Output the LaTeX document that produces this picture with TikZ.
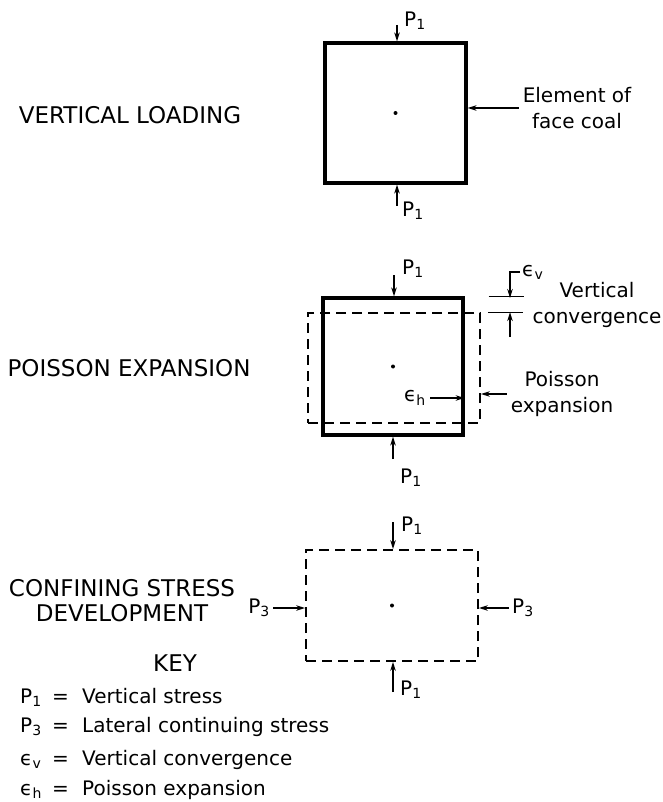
\documentclass[tikz,border=0pt]{standalone}
\usepackage{fontspec}
\setmainfont{DejaVu Sans}
\usetikzlibrary{arrows.meta}

\begin{document}
\begin{tikzpicture}[x=1pt,y=-1pt,
  >={Stealth[length=9pt,width=5.5pt]},
  every node/.style={inner sep=0pt},
  solidbox/.style={draw, line width=3.2pt},
  dashbox/.style={draw, line width=1.8pt, dash pattern=on 10pt off 6pt},
  force/.style={->, line width=1.3pt},
  title/.style={font=\fontsize{23}{25}\selectfont, align=center},
  lbl/.style={font=\fontsize{20}{26}\selectfont, align=center},
  keyline/.style={font=\fontsize{20}{20}\selectfont, anchor=base west}]

\useasboundingbox (0,0) rectangle (662,802);

% vertical loading
\node[title] (tvert) at (130,115) {VERTICAL LOADING};
\node[solidbox, minimum width=141pt, minimum height=140pt] (vbox) at (395.5,113) {};
\fill (vbox.center) circle (2pt);
\coordinate (vtop) at (397,25);
\draw[force] (vtop) -- (vtop |- vbox.north);
\node[lbl, anchor=west] (vp1a) at (404,21) {P\textsubscript{1}};
\coordinate (vbot) at (397,206);
\draw[force] (vbot) -- (vbot |- vbox.south);
\node[lbl, anchor=west] (vp1b) at (402,211) {P\textsubscript{1}};
\node[lbl] (elem) at (577,108) {Element of\\face coal};
\draw[force] ([xshift=-4pt]elem.west) -- (elem.west -| vbox.east);

% poisson expansion
\node[title] (tpois) at (129,368) {POISSON EXPANSION};
\node[dashbox, minimum width=172pt, minimum height=110pt] (pdash) at (394,368) {};
\node[solidbox, minimum width=140pt, minimum height=137pt] (pbox) at (393,366.5) {};
\fill (pbox.center) circle (2pt);
\coordinate (ptop) at (394,275);
\draw[force] (ptop) -- (ptop |- pbox.north);
\node[lbl, anchor=west] (pp1a) at (402,269) {P\textsubscript{1}};
\coordinate (pbot) at (393,459);
\draw[force] (pbot) -- (pbot |- pbox.south);
\node[lbl, anchor=west] (pp1b) at (400,478) {P\textsubscript{1}};

% vertical convergence
\draw[line width=1pt] ([xshift=24pt]pbox.north east) -- ++(35,0);
\draw[line width=1pt] ([xshift=7pt]pdash.north east) -- ++(35,0);
\coordinate (evtop) at (510,298);
\coordinate (evbot) at (510,337);
\node[lbl, anchor=west] (evlab) at (522,272) {ϵ\textsubscript{v}};
\draw[force] ([xshift=-2pt]evlab.west) -| (evtop);
\draw[force] (evbot) -- (evbot |- pdash.north);
\node[lbl] (vconv) at (597,305) {Vertical\\convergence};

% poisson labels
\node[lbl] (ehlab) at (415,398) {ϵ\textsubscript{h}};
\draw[force] ([xshift=4pt]ehlab.east) -- (ehlab.east -| pbox.east);
\node[lbl] (pexp) at (562,394) {Poisson\\expansion};
\draw[force] ([xshift=-4pt]pexp.west) -- (pexp.west -| pdash.east);

% confining stress
\node[title] (tconf) at (122,601) {CONFINING STRESS\\DEVELOPMENT};
\node[dashbox, minimum width=172pt, minimum height=111pt] (cdash) at (392,605.5) {};
\fill (cdash.center) circle (2pt);
\coordinate (ctop) at (393,522);
\draw[force] (ctop) -- (ctop |- cdash.north);
\node[lbl, anchor=west] (cp1a) at (401,526) {P\textsubscript{1}};
\coordinate (cbot) at (393,692);
\draw[force] (cbot) -- (cbot |- cdash.south);
\node[lbl, anchor=west] (cp1b) at (400,690) {P\textsubscript{1}};
\node[lbl, anchor=east] (p3l) at (270,608) {P\textsubscript{3}};
\draw[force] ([xshift=3pt]p3l.east) -- (p3l.east -| cdash.west);
\node[lbl, anchor=west] (p3r) at (512,608) {P\textsubscript{3}};
\draw[force] ([xshift=-3pt]p3r.west) -- (p3r.west -| cdash.east);

% key
\node[title] (key) at (175,663) {KEY};
\node[keyline] (k1) at (20,703) {\makebox[32pt][l]{P\textsubscript{1}}\makebox[30pt][l]{=}Vertical stress};
\node[keyline] (k2) at (20,732) {\makebox[32pt][l]{P\textsubscript{3}}\makebox[30pt][l]{=}Lateral continuing stress};
\node[keyline] (k3) at (20,765) {\makebox[32pt][l]{ϵ\textsubscript{v}}\makebox[30pt][l]{=}Vertical convergence};
\node[keyline] (k4) at (20,795) {\makebox[32pt][l]{ϵ\textsubscript{h}}\makebox[30pt][l]{=}Poisson expansion};

\end{tikzpicture}
\end{document}
